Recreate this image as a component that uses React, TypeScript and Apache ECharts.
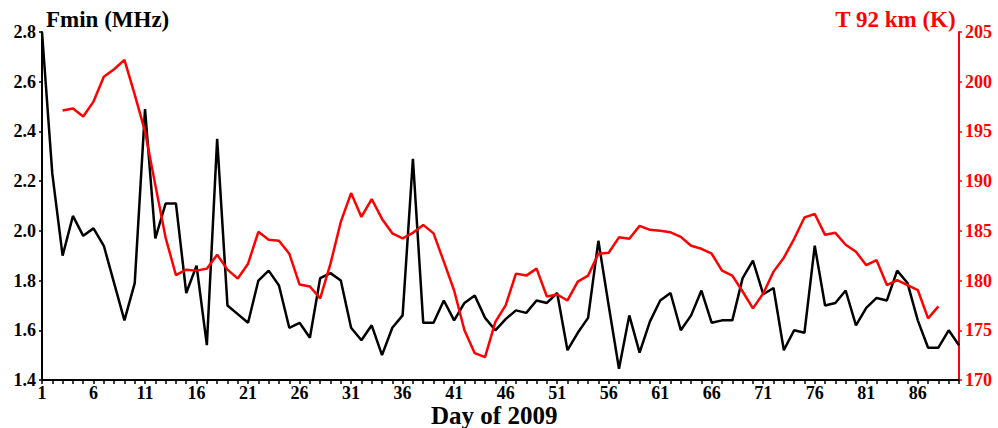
import React, { useEffect, useRef } from "react";
import * as echarts from "echarts";

const days: string[] = Array.from({ length: 90 }, (_, i) => String(i + 1));

const fmin: number[] = [
  2.8, 2.23, 1.9, 2.06, 1.98, 2.01, 1.94, 1.79, 1.64, 1.79,
  2.49, 1.97, 2.11, 2.11, 1.75, 1.86, 1.54, 2.37, 1.7, 1.665,
  1.63, 1.8, 1.84, 1.78, 1.61, 1.63, 1.57, 1.81, 1.83, 1.8,
  1.61, 1.56, 1.62, 1.5, 1.61, 1.66, 2.29, 1.63, 1.63, 1.72,
  1.64, 1.71, 1.74, 1.65, 1.6, 1.645, 1.68, 1.67, 1.72, 1.71,
  1.75, 1.52, 1.59, 1.65, 1.96, 1.7, 1.445, 1.66, 1.51, 1.635,
  1.72, 1.75, 1.6, 1.66, 1.76, 1.63, 1.64, 1.64, 1.81, 1.88,
  1.745, 1.77, 1.52, 1.6, 1.59, 1.94, 1.7, 1.71, 1.76, 1.62,
  1.69, 1.73, 1.72, 1.84, 1.79, 1.64, 1.53, 1.53, 1.6, 1.54,
];

const temp92: (number | null)[] = [
  null, null, 197.1, 197.3, 196.5, 198.0, 200.5, 201.25, 202.2, 198.7,
  195.0, 189.6, 184.3, 180.55, 181.1, 181.0, 181.2, 182.6, 181.1, 180.2,
  181.7, 184.9, 184.1, 184.0, 182.7, 179.6, 179.4, 178.2, 181.7, 185.9,
  188.8, 186.4, 188.2, 186.2, 184.75, 184.25, 184.8, 185.6, 184.75, 181.9,
  179.0, 175.0, 172.7, 172.3, 175.85, 177.5, 180.7, 180.5, 181.2, 178.4,
  178.6, 178.0, 179.9, 180.5, 182.7, 182.8, 184.35, 184.2, 185.5, 185.1,
  185.0, 184.85, 184.4, 183.5, 183.2, 182.7, 181.0, 180.5, 178.9, 177.2,
  178.7, 180.9, 182.3, 184.2, 186.35, 186.7, 184.6, 184.8, 183.6, 182.9,
  181.55, 182.05, 179.55, 180.05, 179.55, 179.05, 176.2, 177.4, null, null,
];

const leftTitle = "Fmin (MHz)";
const rightTitle = "T 92 km (K)";
const xTitle = "Day of 2009";

const FONT = "'Liberation Serif', 'Times New Roman', serif";

export default function App() {
  const ref = useRef<HTMLDivElement>(null);

  useEffect(() => {
    if (!ref.current) return;
    const chart = echarts.init(ref.current, undefined, { renderer: "svg" });
    chart.setOption({
      animation: false,
      backgroundColor: "#ffffff",
      grid: { left: 42, right: 39, top: 32, bottom: 48, containLabel: false },
      xAxis: {
        type: "category",
        data: days,
        boundaryGap: false,
        axisLine: { show: true, lineStyle: { color: "#000", width: 2 } },
        axisTick: { show: true, interval: 0, length: 4, inside: false, lineStyle: { color: "#000", width: 1.5 } },
        axisLabel: {
          interval: 4,
          margin: 5,
          color: "#000",
          fontFamily: FONT,
          fontWeight: "bold",
          fontSize: 18,
          lineHeight: 16,
        },
        splitLine: { show: false },
      },
      yAxis: [
        {
          type: "value",
          min: 1.4,
          max: 2.8,
          interval: 0.2,
          position: "left",
          axisLine: { show: true, lineStyle: { color: "#000", width: 2 } },
          axisTick: { show: true, length: 3, lineStyle: { color: "#000", width: 1.5 } },
          axisLabel: {
            margin: 6,
            color: "#000",
            fontFamily: FONT,
            fontWeight: "bold",
            fontSize: 18,
            formatter: (v: number) => v.toFixed(1),
          },
          splitLine: { show: false },
        },
        {
          type: "value",
          min: 170,
          max: 205,
          interval: 5,
          position: "right",
          axisLine: { show: true, lineStyle: { color: "#ff0000", width: 2 } },
          axisTick: { show: true, length: 3, lineStyle: { color: "#ff0000", width: 1.5 } },
          axisLabel: {
            margin: 6,
            color: "#ff0000",
            fontFamily: FONT,
            fontWeight: "bold",
            fontSize: 18,
          },
          splitLine: { show: false },
        },
      ],
      series: [
        {
          type: "line",
          name: "Fmin",
          data: fmin,
          yAxisIndex: 0,
          showSymbol: false,
          symbol: "none",
          lineStyle: { color: "#000", width: 2.5 },
          itemStyle: { color: "#000" },
        },
        {
          type: "line",
          name: "T92",
          data: temp92,
          yAxisIndex: 1,
          showSymbol: false,
          symbol: "none",
          connectNulls: false,
          lineStyle: { color: "#ff0000", width: 2.5 },
          itemStyle: { color: "#ff0000" },
        },
      ],
      graphic: [
        {
          type: "text",
          left: 46,
          top: 8,
          style: { text: leftTitle, fill: "#000", font: `bold 23px ${FONT}` },
        },
        {
          type: "text",
          right: 42,
          top: 8,
          style: { text: rightTitle, fill: "#ff0000", font: `bold 23px ${FONT}` },
        },
        {
          type: "text",
          left: 431,
          top: 403,
          style: { text: xTitle, fill: "#000", font: `bold 25px ${FONT}` },
        },
      ],
    });
    return () => chart.dispose();
  }, []);

  return (
    <div
      ref={ref}
      style={{ position: "fixed", left: 0, top: 0, width: 998, height: 428, background: "#fff" }}
    />
  );
}
